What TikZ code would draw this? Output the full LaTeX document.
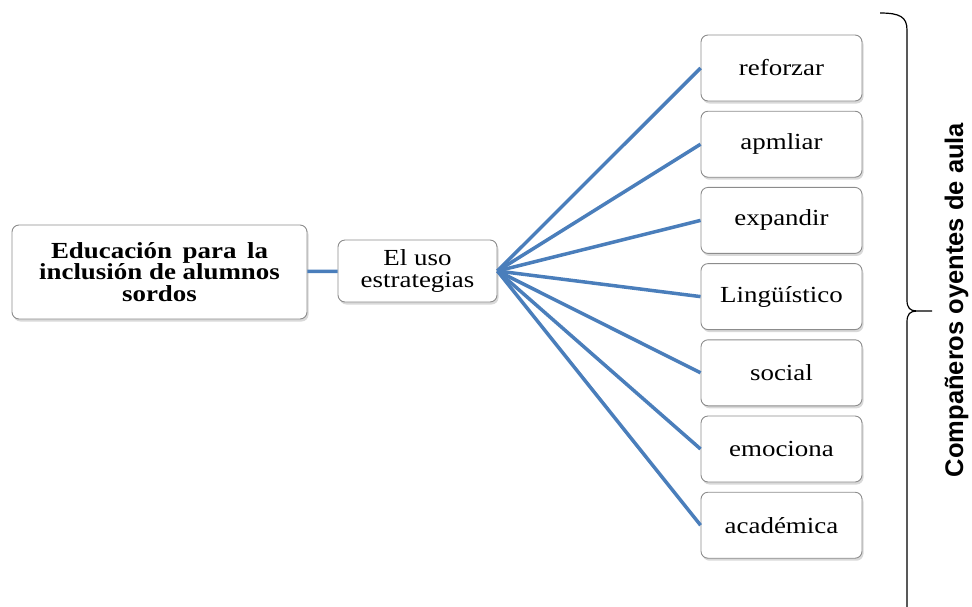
\documentclass[tikz,border=0pt]{standalone}
\usepackage{fontspec}
\setmainfont{Liberation Serif}[FakeStretch=1.17]
\newfontfamily\sansfont{Liberation Sans}
\usepackage{tikz}
\usetikzlibrary{shapes.geometric,calc,positioning,shadows}
\definecolor{linkblue}{RGB}{74,126,187}

\begin{document}
\begin{tikzpicture}[x=1pt,y=-1pt,>=stealth,box/.style = {draw=gray!90, fill=white, rounded corners=7pt, line width=0.9pt, align=center, inner sep=0pt, drop shadow={shadow xshift=1.5pt,shadow yshift=-2.5pt,opacity=0.3}, font=\fontsize{23}{22.3}\selectfont},item/.style = {box, minimum width=161pt, minimum height=66pt},link/.style = {draw=linkblue, line width=3.5pt},]
\useasboundingbox (0,0) rectangle (972,606);
\node (E) at (159.5,272)[box,minimum width=295pt,minimum height=94pt,font=\bfseries\fontsize{23}{21.7}\selectfont] {Educación \,para \,la\\inclusión de alumnos\\sordos};
\node (U) at (417.5,271)[box,minimum width=159pt,minimum height=62pt] {El uso\\estrategias};
\node (R) at (781.5,68)[item] {reforzar};
\node (M) at (781.5,144.2)[item] {apmliar};
\node (X) at (781.5,220.4)[item] {expandir};
\node (L) at (781.5,296.6)[item] {Lingüístico};
\node (S) at (781.5,372.8)[item] {social};
\node (O) at (781.5,449)[item] {emociona};
\node (A) at (781.5,525.2)[item] {académica};
\draw[link] (E)--(U);
\draw[link] (U.east)--(R.west);
\draw[link] (U.east)--(M.west);
\draw[link] (U.east)--(X.west);
\draw[link] (U.east)--(L.west);
\draw[link] (U.east)--(S.west);
\draw[link] (U.east)--(O.west);
\draw[link] (U.east)--(A.west);
\draw[line width=1.2pt] (880,13) .. controls (900,13) and (907,17) .. (907,30) -- (907,300) .. controls (907,308) and (910,311) .. (917,311) -- (932,311) (917,311) .. controls (910,311) and (907,314) .. (907,322) -- (907,610);
\node (T) at (963,300)[rotate=90,anchor=base,font=\sansfont\bfseries\fontsize{25.5}{30}\selectfont] {Compañeros oyentes de aula};
\end{tikzpicture}
\end{document}
